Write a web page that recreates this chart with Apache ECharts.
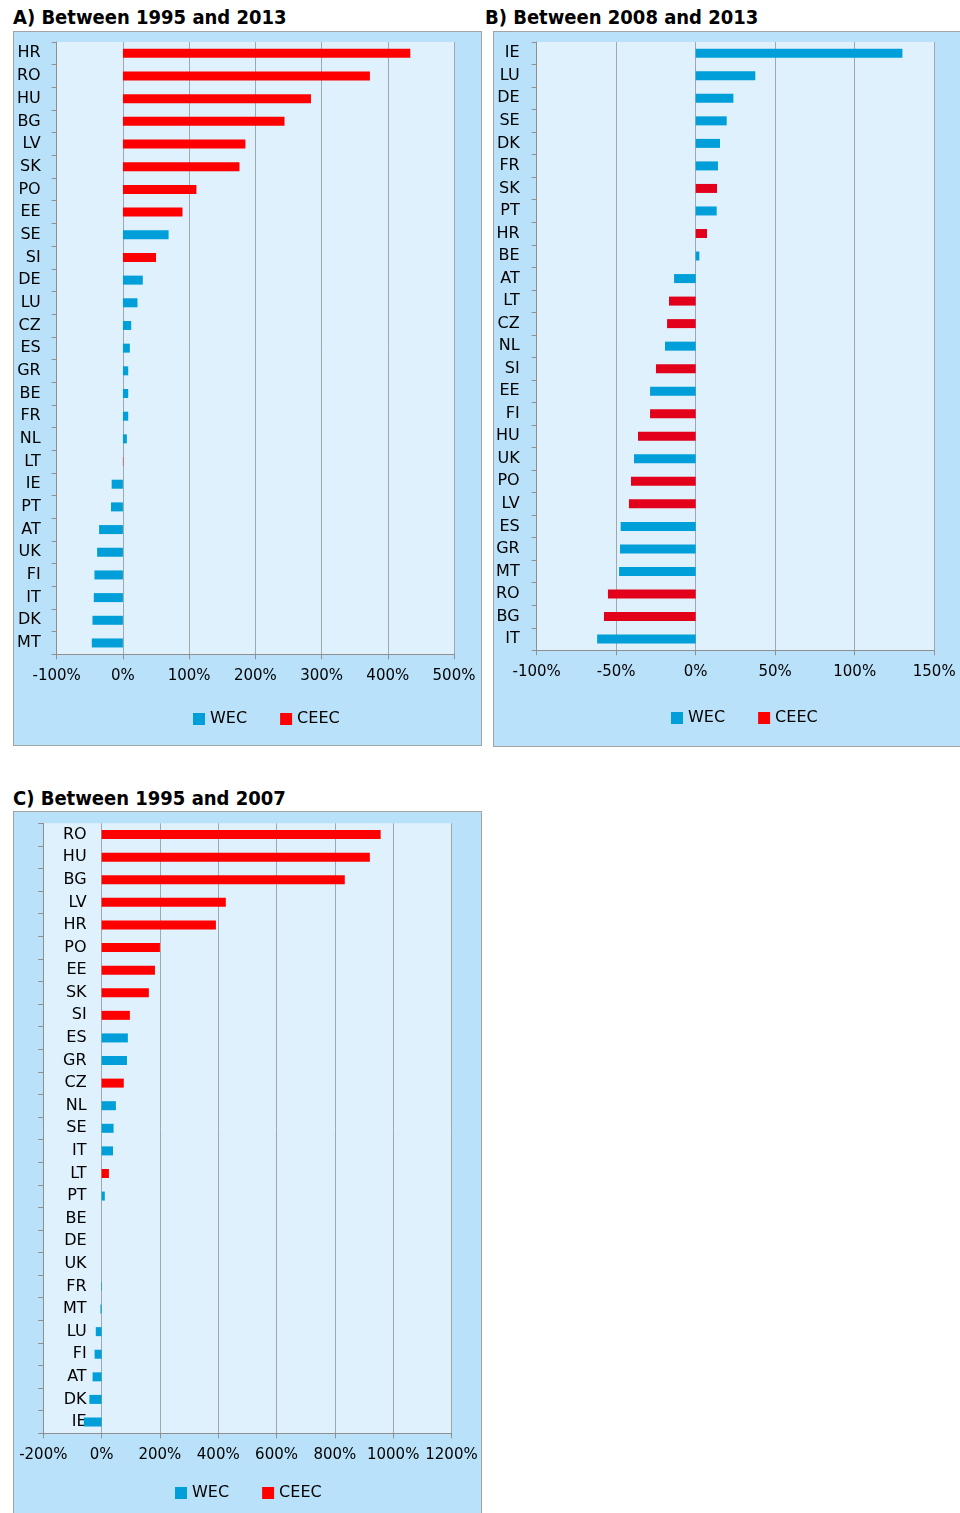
<!DOCTYPE html>
<html>
<head>
<meta charset="utf-8">
<script src="https://cdn.jsdelivr.net/npm/echarts@6/dist/echarts.min.js"></script>
<style>
  body { margin: 0; background: #fff; width: 960px; height: 1513px; position: relative; overflow: hidden; }
  .title { position: absolute; font-family: "DejaVu Sans Condensed", "DejaVu Sans", sans-serif; font-weight: bold; font-size: 20px; line-height: 20px; color: #000; white-space: nowrap; }
  .box { position: absolute; box-sizing: border-box; border: 1px solid #a3a3a3; background: #b9e2fa; }
  .chart { width: 100%; height: 100%; }
</style>
</head>
<body>
<div class="title" style="left:13px; top:7px;">A) Between 1995 and 2013</div>
<div class="title" style="left:485px; top:7px;">B) Between 2008 and 2013</div>
<div class="title" style="left:13px; top:788px;">C) Between 1995 and 2007</div>

<div class="box" style="left:13px; top:31px; width:469px; height:715px;"><div id="chartA" class="chart"></div></div>
<div class="box" style="left:493px; top:31px; width:469px; height:716px;"><div id="chartB" class="chart"></div></div>
<div class="box" style="left:13px; top:811px; width:469px; height:710px;"><div id="chartC" class="chart"></div></div>

<script>
// A) 1995-2013, growth in %
var catsA = ['HR','RO','HU','BG','LV','SK','PO','EE','SE','SI','DE','LU','CZ','ES','GR','BE','FR','NL','LT','IE','PT','AT','UK','FI','IT','DK','MT'];
var valsA = [434, 373, 284, 244, 185, 176, 111, 90, 69, 50, 30, 22, 12.5, 10.5, 8, 8, 8, 6, 0.5, -17, -18, -36, -39, -43, -44, -46, -47];
var grpA  = ['C','C','C','C','C','C','C','C','W','C','W','W','W','W','W','W','W','W','C','W','W','W','W','W','W','W','W'];

// B) 2008-2013
var catsB = ['IE','LU','DE','SE','DK','FR','SK','PT','HR','BE','AT','LT','CZ','NL','SI','EE','FI','HU','UK','PO','LV','ES','GR','MT','RO','BG','IT'];
var valsB = [130, 37.5, 23.7, 19.5, 15.3, 14, 13.4, 13.2, 7.1, 2.3, -13.6, -16.8, -18, -19.3, -25, -28.7, -28.7, -36.3, -38.8, -40.7, -42, -47.2, -47.6, -48.2, -55.2, -57.7, -62];
var grpB  = ['W','W','W','W','W','W','C','W','C','W','W','C','C','W','C','W','C','C','W','C','C','W','W','W','C','C','W'];

// C) 1995-2007
var catsC = ['RO','HU','BG','LV','HR','PO','EE','SK','SI','ES','GR','CZ','NL','SE','IT','LT','PT','BE','DE','UK','FR','MT','LU','FI','AT','DK','IE'];
var valsC = [957, 920, 834, 426, 392, 200, 183, 162, 97, 90, 87, 76, 49, 41, 39, 25, 11, 0, 0, 0, -2, -4, -20, -24, -31, -42, -61];
var grpC  = ['C','C','C','C','C','C','C','C','C','W','W','C','W','W','W','C','W','W','W','W','W','W','W','W','W','W','W'];

var FONT = '"DejaVu Sans", sans-serif';
var BLUE = '#009fda';
var RED = '#ff0000';

function pick(vals, grp, g) {
    return vals.map(function (v, i) { return grp[i] === g ? v : '-'; });
}

function makeOption(cfg) {
    // labels either at the plot's left edge or next to the 0% line (panel C)
    var labelOffset = cfg.labelsOnZero ? -(0 - cfg.min) / (cfg.max - cfg.min) * cfg.grid[2] : 0;
    var yAxes = [{
        type: 'category',
        data: cfg.cats,
        inverse: true,
        position: 'left',
        offset: labelOffset,
        axisLine: { show: false },
        axisTick: { show: false },
        axisLabel: { show: true, color: '#000', fontSize: 16, fontFamily: FONT, margin: cfg.labelMargin }
    }, {
        type: 'category',
        data: cfg.cats,
        inverse: true,
        position: 'left',
        axisLine: { show: true, onZero: true, lineStyle: { color: '#8f8f8f' } },
        axisTick: { show: true, length: 5, lineStyle: { color: '#8f8f8f' } },
        axisLabel: { show: false }
    }];
    return {
        animation: false,
        grid: {
            left: cfg.grid[0], top: cfg.grid[1], width: cfg.grid[2], height: cfg.grid[3],
            show: true, backgroundColor: '#dff1fd', borderWidth: 0,
            containLabel: false, outerBoundsMode: 'none'
        },
        legend: {
            left: cfg.legend[0], top: cfg.legend[1],
            icon: 'rect', itemWidth: 12, itemHeight: 12, itemGap: 33,
            textStyle: { color: '#000', fontSize: 16, fontFamily: FONT },
            data: [{ name: 'WEC' }, { name: 'CEEC', itemStyle: { color: RED } }]
        },
        xAxis: {
            type: 'value',
            min: cfg.min, max: cfg.max, interval: cfg.step,
            axisLine: { show: true, onZero: false, lineStyle: { color: '#8f8f8f' } },
            axisTick: { show: true, length: 5, lineStyle: { color: '#8f8f8f' } },
            axisLabel: {
                color: '#000', fontSize: 15, fontFamily: FONT, margin: 14,
                showMinLabel: true, showMaxLabel: true, hideOverlap: false,
                formatter: function (v) { return v + '%'; }
            },
            splitLine: { show: true, lineStyle: { color: '#a0a8ae', width: 1 } }
        },
        yAxis: yAxes,
        series: [
            { name: 'WEC', type: 'bar', barWidth: 9, barGap: '-100%', color: BLUE,
              itemStyle: { color: BLUE }, data: pick(cfg.vals, cfg.grp, 'W') },
            { name: 'CEEC', type: 'bar', barWidth: 9, barGap: '-100%', color: RED,
              itemStyle: { color: cfg.red }, data: pick(cfg.vals, cfg.grp, 'C') }
        ]
    };
}

var chartA = echarts.init(document.getElementById('chartA'));
chartA.setOption(makeOption({
    cats: catsA, vals: valsA, grp: grpA, red: RED,
    min: -100, max: 500, step: 100,
    grid: [42.7, 10, 397.3, 612.3], legend: [174, 674],
    labelsOnZero: false, labelMargin: 16
}));

var chartB = echarts.init(document.getElementById('chartB'));
chartB.setOption(makeOption({
    cats: catsB, vals: valsB, grp: grpB, red: '#e2001a',
    min: -100, max: 150, step: 50,
    grid: [42.7, 10, 397.5, 608.3], legend: [172, 673],
    labelsOnZero: false, labelMargin: 17
}));

var chartC = echarts.init(document.getElementById('chartC'));
chartC.setOption(makeOption({
    cats: catsC, vals: valsC, grp: grpC, red: RED,
    min: -200, max: 1200, step: 200,
    grid: [29.3, 11.3, 408.2, 610], legend: [156, 668],
    labelsOnZero: true, labelMargin: 15
}));
</script>
</body>
</html>
